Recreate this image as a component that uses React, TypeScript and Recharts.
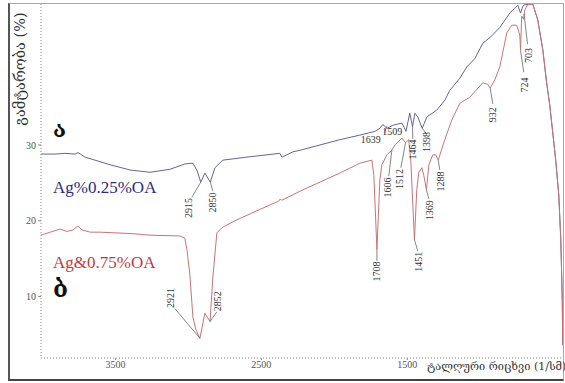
import React from 'react';
import { ComposedChart, Line, XAxis, YAxis, ReferenceLine, ReferenceDot } from 'recharts';

// FTIR transmittance spectra, wavenumber in 1/cm
const waveA = [4010, 3914, 3846, 3777, 3757, 3740, 3709, 3640, 3537, 3400, 3263, 3126, 3024, 2969, 2942, 2915, 2887, 2850, 2818, 2764, 2599, 2373, 2359, 2325, 2284, 2236, 1962, 1825, 1722, 1688, 1668, 1639, 1599, 1537, 1509, 1483, 1464, 1448, 1428, 1398, 1366, 1298, 1243, 1209, 1140, 1092, 1037, 983, 921, 866, 798, 743, 724, 709, 695, 640, 606, 571, 545, 524, 503, 483, 462, 448, 438, 435];
const transA = [28.8, 28.8, 28.9, 28.8, 29.0, 28.8, 28.4, 28.0, 27.4, 26.7, 26.4, 26.8, 27.5, 27.6, 26.7, 25.1, 26.3, 25.1, 27.0, 28.0, 28.4, 28.9, 28.4, 28.7, 29.1, 29.3, 30.7, 31.3, 31.8, 32.2, 32.7, 32.2, 32.6, 32.9, 31.8, 34.2, 32.4, 34.2, 33.7, 32.2, 33.7, 34.6, 35.9, 37.2, 38.8, 40.3, 41.4, 43.4, 44.4, 45.5, 47.4, 48.45, 47.4, 48.3, 48.5, 48.6, 46.5, 42.5, 38.2, 35.3, 31.6, 28.0, 23.4, 17.5, 9.6, 3.6];

const waveB = [4010, 3948, 3880, 3832, 3791, 3757, 3729, 3674, 3606, 3489, 3380, 3263, 3058, 3024, 3010, 2990, 2969, 2948, 2921, 2887, 2852, 2832, 2805, 2770, 2681, 2510, 2380, 2370, 2360, 2236, 1962, 1825, 1743, 1729, 1708, 1688, 1674, 1640, 1606, 1585, 1537, 1512, 1490, 1476, 1451, 1435, 1421, 1400, 1387, 1369, 1352, 1325, 1305, 1288, 1243, 1195, 1140, 1072, 983, 949, 932, 900, 866, 818, 784, 750, 729, 724, 716, 703, 695, 675, 640, 606, 571, 545, 524, 503, 483, 462, 448, 438, 435];
const transB = [18.1, 18.5, 18.9, 18.6, 18.8, 19.3, 18.8, 18.5, 18.5, 18.4, 18.3, 18.1, 18.0, 17.7, 16.2, 12.9, 7.3, 5.6, 4.5, 7.8, 6.7, 12.6, 18.4, 19.1, 20.0, 21.5, 22.6, 22.9, 22.7, 23.9, 26.3, 27.6, 28.0, 26.0, 16.2, 25.4, 27.4, 28.7, 29.3, 30.0, 30.9, 30.3, 30.7, 28.0, 17.5, 24.1, 26.4, 27.0, 26.0, 24.1, 27.4, 28.7, 28.7, 28.0, 30.7, 33.3, 35.5, 36.3, 38.2, 38.0, 37.5, 38.6, 40.3, 44.8, 45.8, 45.8, 44.5, 42.5, 47.0, 46.6, 47.8, 48.5, 48.6, 46.5, 42.5, 38.2, 35.3, 31.6, 28.0, 23.4, 17.5, 9.6, 3.6];

const xTicks = [3500, 2500, 1500];
const yTicks = [10, 20, 30];

// peak labels: text, leader from [wn, T] to [wn, T], text centre, rotated or not
type Peak = { text: string; from: [number, number]; to: [number, number]; at: [number, number]; flat?: boolean };
const peaksA: Peak[] = [
  { text: '2915', from: [2915, 25.1], to: [2976, 23.1], at: [2996, 21.7] },
  { text: '2850', from: [2850, 25.1], to: [2832, 23.9], at: [2832, 22.4] },
  { text: '1639', from: [1658, 31.6], to: [1639, 32.5], at: [1750, 30.7], flat: true },
  { text: '1509', from: [1509, 31.8], to: [1509, 31.8], at: [1603, 31.8], flat: true },
  { text: '1464', from: [1464, 32.4], to: [1462, 30.8], at: [1462, 29.4] },
  { text: '1398', from: [1398, 32.2], to: [1373, 31.6], at: [1366, 30.4] },
  { text: '932', from: [932, 37.5], to: [914, 35.4], at: [914, 34.0] },
  { text: '724', from: [724, 42.5], to: [702, 39.6], at: [697, 37.9] },
  { text: '703', from: [700, 47.3], to: [676, 43.3], at: [670, 41.8] },
];
const peaksB: Peak[] = [
  { text: '2921', from: [2921, 4.5], to: [3092, 8.4], at: [3120, 9.8] },
  { text: '2852', from: [2852, 6.7], to: [2805, 8.0], at: [2798, 9.4] },
  { text: '1708', from: [1708, 16.2], to: [1708, 14.7], at: [1709, 13.3] },
  { text: '1606', from: [1606, 29.3], to: [1627, 25.9], at: [1633, 24.4] },
  { text: '1512', from: [1512, 30.3], to: [1544, 27.0], at: [1551, 25.5] },
  { text: '1451', from: [1451, 17.5], to: [1428, 16.0], at: [1421, 14.6] },
  { text: '1369', from: [1369, 24.1], to: [1352, 22.9], at: [1346, 21.4] },
  { text: '1288', from: [1288, 28.0], to: [1277, 26.7], at: [1270, 25.2] },
];

const seriesA = waveA.map((wn, i) => ({ wn, t: transA[i] }));
const seriesB = waveB.map((wn, i) => ({ wn, t: transB[i] }));

const serif = '"Liberation Serif", "DejaVu Serif", serif';
const georgian = '"DejaVu Serif", "DejaVu Sans", serif';

function peakText(text: string, flat?: boolean) {
  return (p: any) => (
    <text
      x={p.cx}
      y={p.cy}
      transform={flat ? undefined : `rotate(-90 ${p.cx} ${p.cy})`}
      textAnchor="middle"
      dominantBaseline="central"
      fontFamily={serif}
      fontSize={10}
      fill="#333"
    >
      {text}
    </text>
  );
}

function renderPeaks(list: Peak[], key: string) {
  return list.flatMap((pk, i) => [
    <ReferenceLine
      key={`${key}l${i}`}
      segment={[{ x: pk.from[0], y: pk.from[1] }, { x: pk.to[0], y: pk.to[1] }]}
      stroke="#666"
      strokeWidth={0.8}
      ifOverflow="visible"
    />,
    <ReferenceDot
      key={`${key}t${i}`}
      x={pk.at[0]}
      y={pk.at[1]}
      r={0}
      ifOverflow="visible"
      shape={peakText(pk.text, pk.flat)}
    />,
  ]);
}

const abs = (left: number, top: number): React.CSSProperties => ({ position: 'absolute', left, top, whiteSpace: 'nowrap' });

export default function App() {
  return (
    <div style={{ position: 'absolute', left: 0, top: 0, width: 565, height: 383, background: '#fff', overflow: 'hidden' }}>
      <div
        style={{
          position: 'absolute', left: 8, top: 3, width: 556, height: 378, boxSizing: 'border-box',
          borderLeft: '2px solid #555', borderBottom: '2px solid #444', borderTop: '1px solid #aaa', borderRight: '1px solid #aaa',
        }}
      />
      <div style={{ position: 'absolute', left: 0, top: 0 }}>
        <ComposedChart width={565} height={383} margin={{ top: 4, right: 2, bottom: 0, left: 0 }}>
          <XAxis
            type="number"
            dataKey="wn"
            domain={[433, 4010]}
            reversed
            allowDataOverflow
            ticks={xTicks}
            height={25}
            tickSize={2}
            tickMargin={1}
            axisLine={{ stroke: '#888', strokeDasharray: '1 2' }}
            tickLine={{ stroke: '#888' }}
            tick={{ fontFamily: serif, fontSize: 10, fill: '#555' }}
          />
          <YAxis
            type="number"
            dataKey="t"
            domain={[1.9, 48.6]}
            allowDataOverflow
            ticks={yTicks}
            width={41}
            tickSize={3}
            tickMargin={2}
            axisLine={{ stroke: '#888', strokeDasharray: '1 2' }}
            tickLine={{ stroke: '#888' }}
            tick={{ fontFamily: serif, fontSize: 10, fill: '#555' }}
          />
          <Line data={seriesA} dataKey="t" type="linear" stroke="#64649c" strokeWidth={1} dot={false} isAnimationActive={false} />
          <Line data={seriesB} dataKey="t" type="linear" stroke="#c97474" strokeWidth={1} dot={false} isAnimationActive={false} />
          {renderPeaks(peaksA, 'a')}
          {renderPeaks(peaksB, 'b')}
        </ComposedChart>
      </div>
      <div
        style={{
          ...abs(20, 69), transform: 'translate(-50%, -50%) rotate(-90deg)', fontFamily: georgian, fontSize: 14.5, color: '#333',
        }}
      >
        გამტარობა (%)
      </div>
      <div style={{ ...abs(427, 360), fontFamily: georgian, fontSize: 11, color: '#333' }}>ტალღური რიცხვი (1/სმ)</div>
      <div style={{ ...abs(53, 116), fontFamily: georgian, fontSize: 22, fontWeight: 'bold', color: '#111' }}>ა</div>
      <div style={{ ...abs(53, 274), fontFamily: georgian, fontSize: 24, fontWeight: 'bold', color: '#111' }}>ბ</div>
      <div style={{ ...abs(53, 178), fontFamily: serif, fontSize: 17, color: '#2d2d7e' }}>Ag%0.25%OA</div>
      <div style={{ ...abs(53, 253), fontFamily: serif, fontSize: 17, color: '#c23a44' }}>Ag&amp;0.75%OA</div>
    </div>
  );
}
